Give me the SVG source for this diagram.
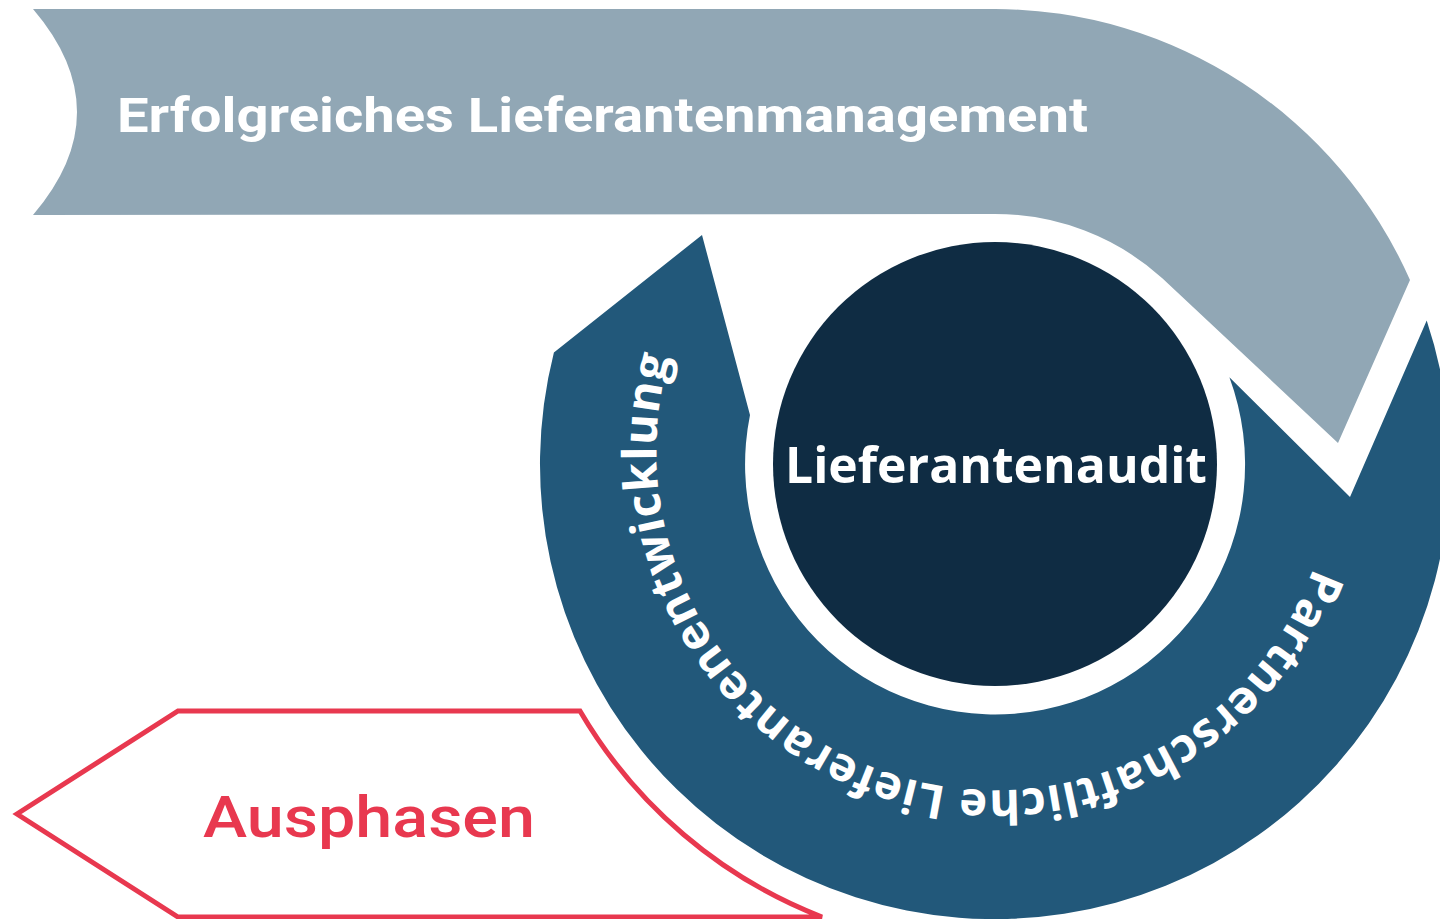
<svg xmlns="http://www.w3.org/2000/svg" width="1440" height="919" viewBox="0 0 1440 919">
  <defs>
    <style>
      .grey { fill: #91A7B5; }
      .blue { fill: #22587A; }
      .dark { fill: #0F2C43; }
      .red-outline { fill: #FFFFFF; stroke: #E8384F; stroke-width: 5; stroke-linejoin: miter; }
      .white-bold { fill: #FFFFFF; font-weight: 700; }
    </style>
    <path id="ringTextPath" d="M 1313.6 567.5 A 335 335 0 1 1 677 335"/>
  </defs>
  <rect x="0" y="0" width="1440" height="919" fill="#FFFFFF"/>

  <g id="node-management">
    <path class="grey" d="M 33 9 L 995 9 A 455 455 0 0 1 1410 280 L 1338 443 L 1162.3 278.2 A 250 250 0 0 0 995 214 L 33 215 Q 121 112 33 9 Z"/>
    <text class="white-bold" x="117" y="132" font-family="Roboto, 'Liberation Sans', sans-serif" font-size="49" textLength="971" lengthAdjust="spacingAndGlyphs">Erfolgreiches Lieferantenmanagement</text>
  </g>

  <g id="node-entwicklung">
    <path class="blue" d="M 1426.7 320.4 A 455 455 0 1 1 553.9 352.4 L 702 235 L 750 415 A 250 250 0 1 0 1229.4 377.3 L 1350 497 Z"/>
    <text class="white-bold" font-family="'Open Sans', 'Liberation Sans', sans-serif" font-size="47" letter-spacing="0.7"><textPath href="#ringTextPath">Partnerschaftliche Lieferantenentwicklung</textPath></text>
  </g>

  <g id="node-audit">
    <circle class="dark" cx="995" cy="464" r="222"/>
    <text class="white-bold" x="785" y="483" font-family="'Open Sans', 'Liberation Sans', sans-serif" font-size="51" textLength="422" lengthAdjust="spacingAndGlyphs">Lieferantenaudit</text>
  </g>

  <g id="node-ausphasen">
    <path class="red-outline" d="M 580 711 L 178 711 L 17 814 L 178 917 L 822 917 A 483 483 0 0 1 580 711 Z"/>
    <text x="203" y="837" fill="#E8384F" font-family="Roboto, 'Liberation Sans', sans-serif" font-weight="500" font-size="57" textLength="332" lengthAdjust="spacingAndGlyphs">Ausphasen</text>
  </g>

  <g id="connectors"></g>
</svg>
